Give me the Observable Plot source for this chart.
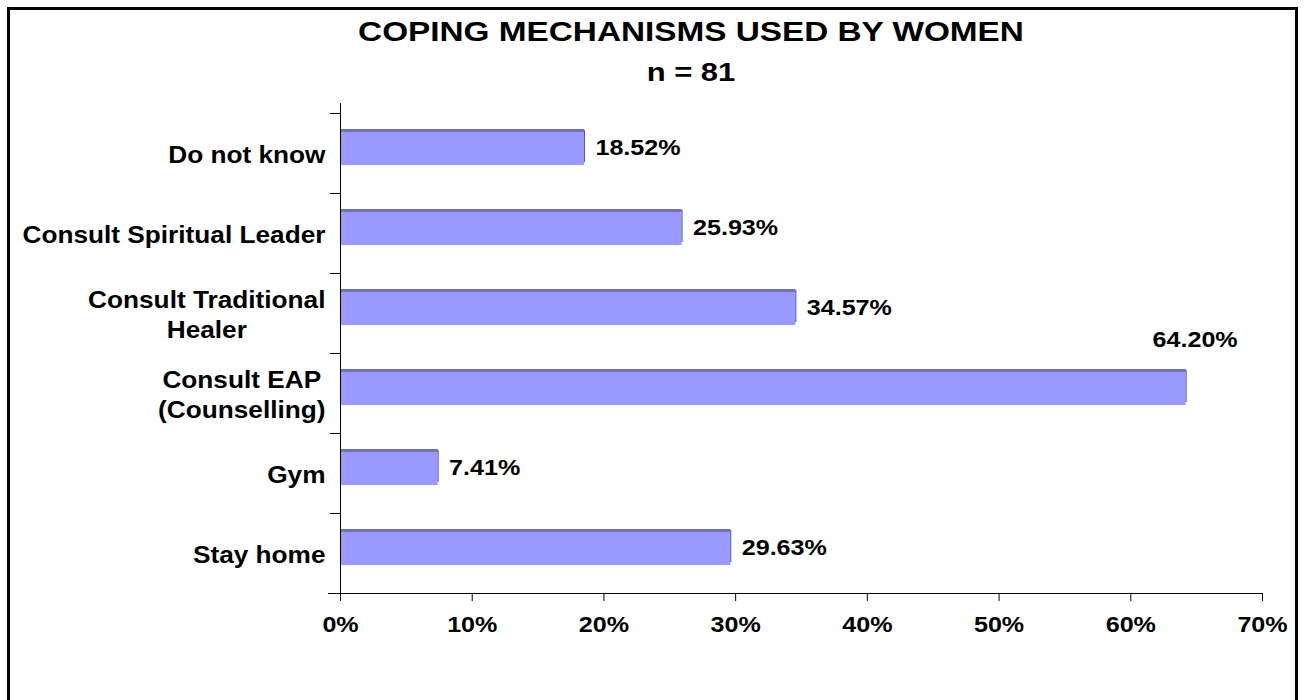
<!DOCTYPE html>
<html>
<head>
<meta charset="utf-8">
<script src="https://cdn.jsdelivr.net/npm/d3@7"></script>
<script src="https://cdn.jsdelivr.net/npm/@observablehq/plot@0.6"></script>
<style>
  html, body { margin: 0; padding: 0; background: #fff; overflow: hidden; }
  #page { position: relative; width: 1306px; height: 700px; font-family: "Liberation Sans", Arial, sans-serif; }
  #frame { position: absolute; left: 7px; top: 7px; width: 1285px; height: 720px; border: 3px solid #000; pointer-events: none; z-index: 5; }
  .ttl { position: absolute; left: 0; width: 1382px; text-align: center; font-weight: bold; line-height: 1; color: #000; white-space: nowrap; }
  #title { top: 18px; font-size: 28px; transform: scaleX(1.19); transform-origin: 691px 0; }
  #subtitle { top: 59px; font-size: 26px; transform: scaleX(1.19); transform-origin: 691px 0; }
  #chart { position: absolute; left: 0; top: 0; }
</style>
</head>
<body>
<div id="page">
  <div id="chart"></div>
  <div id="title" class="ttl">COPING MECHANISMS USED BY WOMEN</div>
  <div id="subtitle" class="ttl">n = 81</div>
  <div id="frame"></div>
</div>
<script>
// ---- data ----
const categories = [
  "Do not know",
  "Consult Spiritual Leader",
  "Consult Traditional\nHealer",
  "Consult EAP\n(Counselling)",
  "Gym",
  "Stay home"
];
const values = [18.52, 25.93, 34.57, 64.20, 7.41, 29.63];
const labelAbove = [false, false, false, true, false, false];
const xTicks = [0, 10, 20, 30, 40, 50, 60, 70];

// ---- build ----
const rows = categories.map((c, i) => ({category: c, value: values[i], i, above: labelAbove[i]}));
const boundaries = d3.range(categories.length + 1);

const FONT = '"Liberation Sans", Arial, sans-serif';
const LABEL_SIZE = 23;
const SX = 1.14;
const ctx = document.createElement("canvas").getContext("2d");
ctx.font = `bold ${LABEL_SIZE}px "Liberation Sans"`;
const blockWidth = (s) => Math.max(...s.split("\n").map(l => ctx.measureText(l).width)) * SX;

const yTop = (d) => d.i;
const yBot = (d) => d.i + 1;
const yMid = (d) => d.i + 0.5;

const categoryLabels = rows.map(r => Plot.text([r], {
  x: () => 0, y: yMid, text: "category",
  textAnchor: "middle", dx: -(15 + blockWidth(r.category) / 2),
  fontSize: LABEL_SIZE, fontWeight: "bold", lineHeight: 1.3, fill: "#000"
}));

const chart = Plot.plot({
  width: 1306,
  height: 700,
  marginLeft: 340,
  marginRight: 44,
  marginTop: 113,
  marginBottom: 107,
  style: {fontFamily: FONT, fontSize: "22px", fontWeight: "bold", color: "#000", background: "transparent", overflow: "visible"},
  x: {domain: [0, 70], ticks: xTicks, tickFormat: d => d + "%", tickSize: 8, tickPadding: 15, label: null},
  y: {domain: [categories.length, 0], ticks: boundaries, tickFormat: () => "", tickSize: 10, label: null},
  marks: [
    Plot.rectX(rows, {x1: 0, x2: "value", y1: yTop, y2: yBot, insetTop: 16, insetBottom: 28, fill: "#9999ff"}),
    Plot.rectX(rows, {x1: 0, x2: "value", y1: yTop, y2: yBot, insetTop: 16, insetBottom: 61, fill: "#7272bb"}),
    Plot.ruleX(rows, {x: "value", y1: yTop, y2: yBot, insetTop: 17, insetBottom: 31, stroke: "#4f4f8f", strokeWidth: 1}),
    Plot.ruleX([0], {stroke: "#000", strokeWidth: 1, insetTop: -10}),
    Plot.ruleY([categories.length], {stroke: "#000", strokeWidth: 1, insetLeft: -12}),
    Plot.text(rows.filter(r => !r.above), {
      x: "value", y: yMid, text: d => d.value.toFixed(2) + "%",
      textAnchor: "start", dx: 11, dy: -6, fontSize: 22, fontWeight: "bold", fill: "#000"
    }),
    Plot.text(rows.filter(r => r.above), {
      x: "value", y: yMid, text: d => d.value.toFixed(2) + "%",
      textAnchor: "middle", dx: 9, dy: -54, fontSize: 22, fontWeight: "bold", fill: "#000"
    }),
    ...categoryLabels
  ]
});

// widen glyphs horizontally to match the reference's stretched Arial rendering
chart.querySelectorAll("text").forEach(t => {
  const tr = t.getAttribute("transform") || "";
  t.setAttribute("transform", (tr + ` scale(${SX},1)`).trim());
});

document.getElementById("chart").appendChild(chart);
</script>
</body>
</html>
